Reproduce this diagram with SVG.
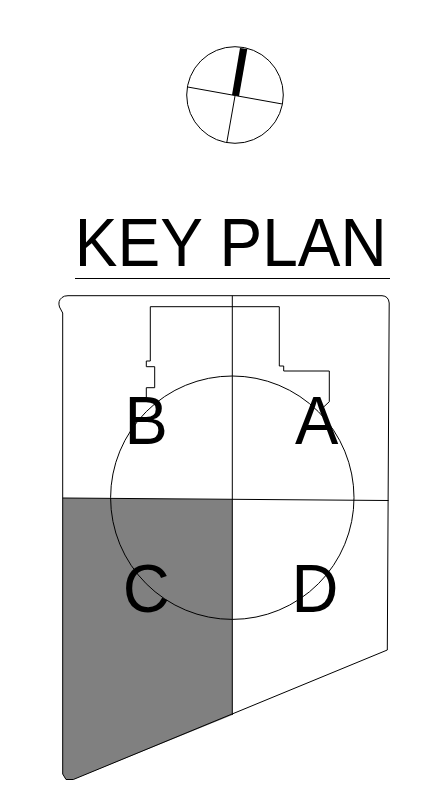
<svg xmlns="http://www.w3.org/2000/svg" width="444" height="807" viewBox="0 0 444 807">
<style>
.l{fill:none;stroke:#000;stroke-width:1}
.t{font-family:"Liberation Sans",Arial,sans-serif;fill:#000}
.k{font-size:65px}
</style>
<rect width="444" height="807" fill="#fff"/>
<g id="north">
<circle class="l" cx="235" cy="95" r="48.300"/>
<path class="l" d="M187.700 87L282.300 104M235 96L226.700 143"/>
<path d="M240 48L247.300 49L239 96.200L232 95Z" fill="#000"/>
</g>
<g id="title">
<text class="t" transform="translate(74.800 265.700) scale(1 1.06)" font-size="64">KEY PLAN</text>
<path class="l" d="M75 278.500H390"/>
</g>
<g id="plan">
<path id="zone-c" d="M62.700 498L232.300 499.500V715L73.300 779.500H66L62.700 774Z" fill="#808080"/>
<path class="l" d="M62.700 313L59.500 307Q57.500 301 62 297.500Q64 295.700 68 295.700H382Q388.500 296 389.200 303L387.300 650L73.300 779.500H66L62.700 774Z"/>
<path class="l" d="M232.300 295.700V715M62.700 498L388.500 500.500"/>
<path class="l" d="M150.300 306.700H279.300V366H283.700V371H329.300V401.700L323.300 407.300M150.300 306.700V361H146.300V366.700H154.700V387.700H146.300V397"/>
<circle class="l" cx="232.300" cy="497.700" r="121.700"/>
</g>
<g id="labels">
<text class="t k" transform="translate(124.500 443.500) scale(1 1.04)">B</text>
<text class="t k" transform="translate(295 443.500) scale(1 1.04)">A</text>
<text class="t k" transform="translate(122.700 612.300) scale(1 1.04)">C</text>
<text class="t k" transform="translate(291.500 612.300) scale(1 1.04)">D</text>
</g>
</svg>
